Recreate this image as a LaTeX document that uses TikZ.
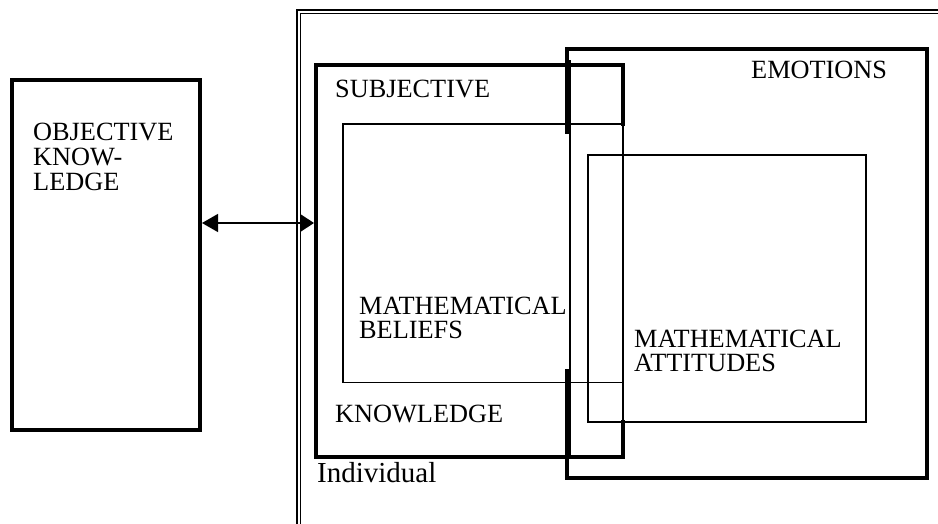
\documentclass[tikz,border=0pt]{standalone}
\usepackage{fontspec}
\setmainfont{Liberation Serif}
\usetikzlibrary{arrows.meta}
\tikzset{
  thickline/.style={line width=4pt, line cap=rect},
  thinline/.style={line width=1.4pt},
  lbl/.style={anchor=base west, inner sep=0pt, font=\fontsize{26.3}{25}\selectfont},
  lblbig/.style={anchor=base west, inner sep=0pt, font=\fontsize{29}{28}\selectfont},
}
\begin{document}
\begin{tikzpicture}[x=1pt,y=-1pt]
\useasboundingbox (0,0) rectangle (938,523);
\clip (0,0) rectangle (938,523);
% outer double frame (cut by the page edge)
\draw[line width=2.5pt] (297,10) rectangle (960,545);
\draw[line width=1pt] (300.5,13.5) rectangle (956,541);
% objective knowledge box
\node[draw, line width=4pt, minimum width=188pt, minimum height=350pt, inner sep=0pt] (obj) at (106,255) {};
\node[lbl] (ob1) at (33,140) {OBJECTIVE};
\node[lbl] (ob2) at (33,165) {KNOW-};
\node[lbl] (ob3) at (33,190) {LEDGE};
% subjective knowledge box
\draw[thickline] (623,124) -- (623,65) -- (316,65) -- (316,457) -- (623,457) -- (623,422);
\draw[thinline] (623,124) -- (623,422);
% emotions box
\draw[thickline] (567,132) -- (567,49) -- (927,49) -- (927,478) -- (567,478) -- (567,371);
\draw[thinline] (570,60) -- (570,457);
% mathematical beliefs box
\draw[thinline] (623,124) -- (343,124) -- (343,382.5) -- (623,382.5);
% mathematical attitudes box
\draw[thinline] (588,155) rectangle (866,422);
% labels
\node[lbl] (subj) at (335,97) {SUBJECTIVE};
\node[lbl] (know) at (335,422) {KNOWLEDGE};
\node[lbl] (emo) at (751,78) {EMOTIONS};
\node[lbl] (mb1) at (359,314) {MATHEMATICAL};
\node[lbl] (mb2) at (359,338) {BELIEFS};
\node[lbl] (ma1) at (634,347) {MATHEMATICAL};
\node[lbl] (ma2) at (634,371.5) {ATTITUDES};
\node[lblbig] (indiv) at (317,482) {Individual};
% arrow between objective and subjective knowledge
\coordinate (arrL) at (202,223);
\coordinate (arrR) at (314,223);
\draw[line width=1.3pt, {Triangle[length=16pt,width=18pt]}-{Triangle[length=14pt,width=18pt]}] (arrL) -- (arrR);
\end{tikzpicture}
\end{document}
